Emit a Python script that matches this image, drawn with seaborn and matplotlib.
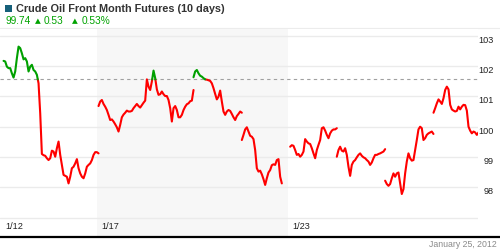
import numpy as np
import pandas as pd
import matplotlib
matplotlib.use("Agg")
import matplotlib.pyplot as plt
import seaborn as sns
from matplotlib.lines import Line2D
from matplotlib.patches import Rectangle

# ---------------- data ----------------
title = "Crude Oil Front Month Futures (10 days)"
last_price = "99.74"
change_abs = "0.53"
change_pct = "0.53%"
date_text = "January 25, 2012"
ref_price = 101.56            # previous reference level (dashed line)
grid_levels = [97, 98, 99, 100, 101, 102, 103]
grid_labels = ["", "98", "99", "100", "101", "102", "103"]
x_tick_days = [0, 2, 6]
x_tick_labels = ["1/12", "1/17", "1/23"]
shade_days = [2, 6]           # shaded week
day_span = [-0.02, 9.96]
sample_step = 0.0348          # days between samples

seg1_start = 0.054
seg1 = [102.17, 102.15, 101.98, 101.93, 101.93, 101.76, 101.62, 101.82, 102.26, 102.64,
        102.59, 102.42, 102.22, 102.26, 102.15, 101.82, 101.98, 102.04, 101.87, 101.82,
        101.71, 101.43, 100.44, 99.10, 99.06, 99.04, 98.96, 98.90, 98.96, 99.21,
        99.18, 99.01, 99.29, 99.51, 99.07, 98.74, 98.41, 98.38, 98.35, 98.13,
        98.35, 98.63, 98.68, 98.79, 98.93, 98.63, 98.46, 98.35, 98.30, 98.46,
        98.68, 98.74, 98.79, 98.90, 99.07, 99.16, 99.16, 99.12]
seg2_start = 2.037
seg2 = [100.68, 100.83, 100.88, 100.75, 100.66, 100.55, 100.39, 100.22, 100.24, 100.17,
        100.08, 99.98, 99.84, 100.06, 100.31, 100.40, 100.46, 100.53, 100.50, 100.50,
        100.52, 100.61, 100.68, 100.75, 100.68, 100.63, 100.71, 100.79, 100.86, 101.56,
        101.32, 101.21, 101.49, 101.85, 101.60, 101.23, 101.05, 101.07, 101.16,
        101.07, 101.01, 101.01, 100.88, 100.61, 100.17, 100.61, 100.68, 100.55, 100.31,
        100.31, 100.39, 100.55, 100.66, 100.74, 100.77, 100.84, 100.86, 101.21]
seg3_start = 4.020
seg3 = [101.63, 101.82, 101.87, 101.76, 101.68, 101.65, 101.60, 101.56, 101.55, 101.53,
        101.51, 101.43, 101.27, 101.08, 100.90, 100.99, 101.19, 100.83, 100.50, 100.39,
        100.50, 100.55, 100.52, 100.42, 100.31, 100.22, 100.35, 100.42, 100.50, 100.46]
seg4_start = 5.029
seg4 = [99.56, 99.73, 99.91, 99.98, 99.84, 99.70, 99.67, 99.59, 99.23, 98.63,
        98.52, 98.55, 98.43, 98.27, 98.08, 98.30, 98.49, 98.57, 98.73, 98.76,
        98.74, 98.90, 98.93, 98.35, 98.13]
seg5_start = 6.038
seg5 = [99.34, 99.39, 99.37, 99.23, 99.07, 99.10, 99.01, 99.07, 99.18, 99.59,
        99.51, 99.45, 99.43, 99.29, 99.12, 98.96, 99.23, 99.40, 99.56, 99.95,
        99.98, 99.87, 99.73, 99.62, 99.78, 99.87, 99.91, 99.91, 99.95]
seg6_start = 7.012
seg6 = [99.01, 99.23, 99.34, 99.21, 99.18, 99.29, 99.07, 98.68, 98.38, 98.74,
        98.85, 98.90, 98.99, 99.07, 99.12, 99.04, 98.99, 98.96, 98.90, 98.85,
        98.74, 98.82, 98.96, 99.07, 99.07, 99.10, 99.12, 99.15, 99.18, 99.26]
seg7_start = 8.021
seg7 = [98.22, 98.11, 98.05, 98.11, 98.30, 98.46, 98.35, 98.46, 98.49, 98.13,
        97.78, 97.94, 98.46, 98.85, 99.12, 98.96, 98.88, 98.90, 99.23, 99.56,
        99.91, 100.00, 99.95, 99.56, 99.62, 99.73, 99.78, 99.81, 99.84, 99.76]
seg8_start = 9.031
seg8 = [100.46, 100.61, 100.77, 100.90, 100.83, 100.75, 100.94, 101.21, 101.32, 101.23,
        100.72, 100.57, 100.53, 100.50, 100.52, 100.66, 100.57, 100.66, 100.72, 100.71,
        100.53, 100.00, 99.87, 99.78, 99.84, 99.81, 99.73, 99.81, 99.87, 99.91]

segments = [(seg1_start, seg1), (seg2_start, seg2), (seg3_start, seg3), (seg4_start, seg4),
            (seg5_start, seg5), (seg6_start, seg6), (seg7_start, seg7), (seg8_start, seg8)]

# ---------------- colours ----------------
RED = "#ff0000"
GREEN = "#00a000"
TXT_GREEN = "#00a300"

# ---------------- build runs split at reference ----------------
rows = []
run_id = 0
for start, vals in segments:
    p = np.asarray(vals, dtype=float)
    t = start + sample_step * np.arange(len(p))
    tt, pp = [t[0]], [p[0]]
    for i in range(1, len(p)):
        if (p[i - 1] - ref_price) * (p[i] - ref_price) < 0:
            f = (ref_price - p[i - 1]) / (p[i] - p[i - 1])
            tt.append(t[i - 1] + f * (t[i] - t[i - 1]))
            pp.append(ref_price)
        tt.append(t[i])
        pp.append(p[i])
    cur_cls = None
    for i in range(len(pp) - 1):
        cls = "up" if (pp[i] + pp[i + 1]) / 2 > ref_price else "down"
        if cls != cur_cls:
            run_id += 1
            cur_cls = cls
            rows.append((run_id, cls, tt[i], pp[i]))
        rows.append((run_id, cls, tt[i + 1], pp[i + 1]))

df = pd.DataFrame(rows, columns=["run", "cls", "t", "p"])

# ---------------- figure ----------------
sns.set_style("white")
plt.rcParams["font.family"] = ["Liberation Sans", "DejaVu Sans"]

W, H = 500, 250
fig = plt.figure(figsize=(5, 2.5), dpi=100)
fig.patch.set_facecolor("white")

ax_top_px, ax_bot_px, ax_right_px = 28.5, 236.7, 478
ax = fig.add_axes([0, 1 - ax_bot_px / H, ax_right_px / W, (ax_bot_px - ax_top_px) / H])
ax.set_facecolor("white")
for s in ax.spines.values():
    s.set_visible(False)

ax.set_xlim(*day_span)
ax.set_ylim(96.373, 103.237)

ax.axvspan(shade_days[0], shade_days[1], color="#f7f7f7", zorder=0, lw=0)

ax.set_yticks(grid_levels)
ax.set_yticklabels(grid_labels)
ax.grid(axis="y", color="#ebebeb", lw=1.0, zorder=1)
ax.grid(axis="x", visible=False)
ax.set_xticks([])
ax.yaxis.tick_right()
ax.tick_params(axis="y", length=0, pad=11.5, labelsize=6.6, labelcolor="#222222")
plt.setp(ax.get_yticklabels(), ha="right", va="top")

ax.axhline(ref_price, color="#a0a0a0", lw=0.8, ls=(0, (3, 3)), zorder=2)

for cls, col in [("down", RED), ("up", GREEN)]:
    sub = df[df["cls"] == cls]
    sns.lineplot(data=sub, x="t", y="p", units="run", estimator=None, sort=False,
                 color=col, lw=1.5, ax=ax, legend=False, zorder=3)
ax.set_xlabel("")
ax.set_ylabel("")

for d, lab in zip(x_tick_days, x_tick_labels):
    ax.annotate(lab, xy=(d, 0), xycoords=ax.get_xaxis_transform(),
                xytext=(3, 4.0), textcoords="offset points", ha="left", va="bottom",
                fontsize=6.6, color="#222222")

# bottom black rule and header separator
fig.add_artist(Line2D([0, 1], [1 - ax_bot_px / H] * 2, transform=fig.transFigure,
                      color="black", lw=1.6, zorder=10))
fig.add_artist(Line2D([0, 1], [1 - 28.3 / H] * 2, transform=fig.transFigure,
                      color="#ececec", lw=0.8, zorder=0))

# header
fig.add_artist(Rectangle((5 / W, 1 - 12.3 / H), 7 / W, 7 / H, transform=fig.transFigure,
                         color="#16607a", lw=0))
fig.text(16 / W, 1 - 12.4 / H, title, fontsize=7.8, fontweight="bold", color="#333333",
         va="baseline", ha="left")
fig.text(5 / W, 1 - 24.0 / H, last_price, fontsize=7.3, color=TXT_GREEN, va="baseline")
fig.text(34.5 / W, 1 - 22.8 / H, "\u25b2", fontsize=5.4, color=TXT_GREEN, va="baseline",
         family=["DejaVu Sans"])
fig.text(43.3 / W, 1 - 24.0 / H, change_abs, fontsize=7.3, color=TXT_GREEN, va="baseline")
fig.text(72.2 / W, 1 - 22.8 / H, "\u25b2", fontsize=5.4, color=TXT_GREEN, va="baseline",
         family=["DejaVu Sans"])
fig.text(81.7 / W, 1 - 24.0 / H, change_pct, fontsize=7.3, color=TXT_GREEN, va="baseline")

fig.text(497 / W, 1 - 247.0 / H, date_text, fontsize=6.3, color="#8a8a8a",
         ha="right", va="baseline")

fig.savefig("out.png", dpi=100)
